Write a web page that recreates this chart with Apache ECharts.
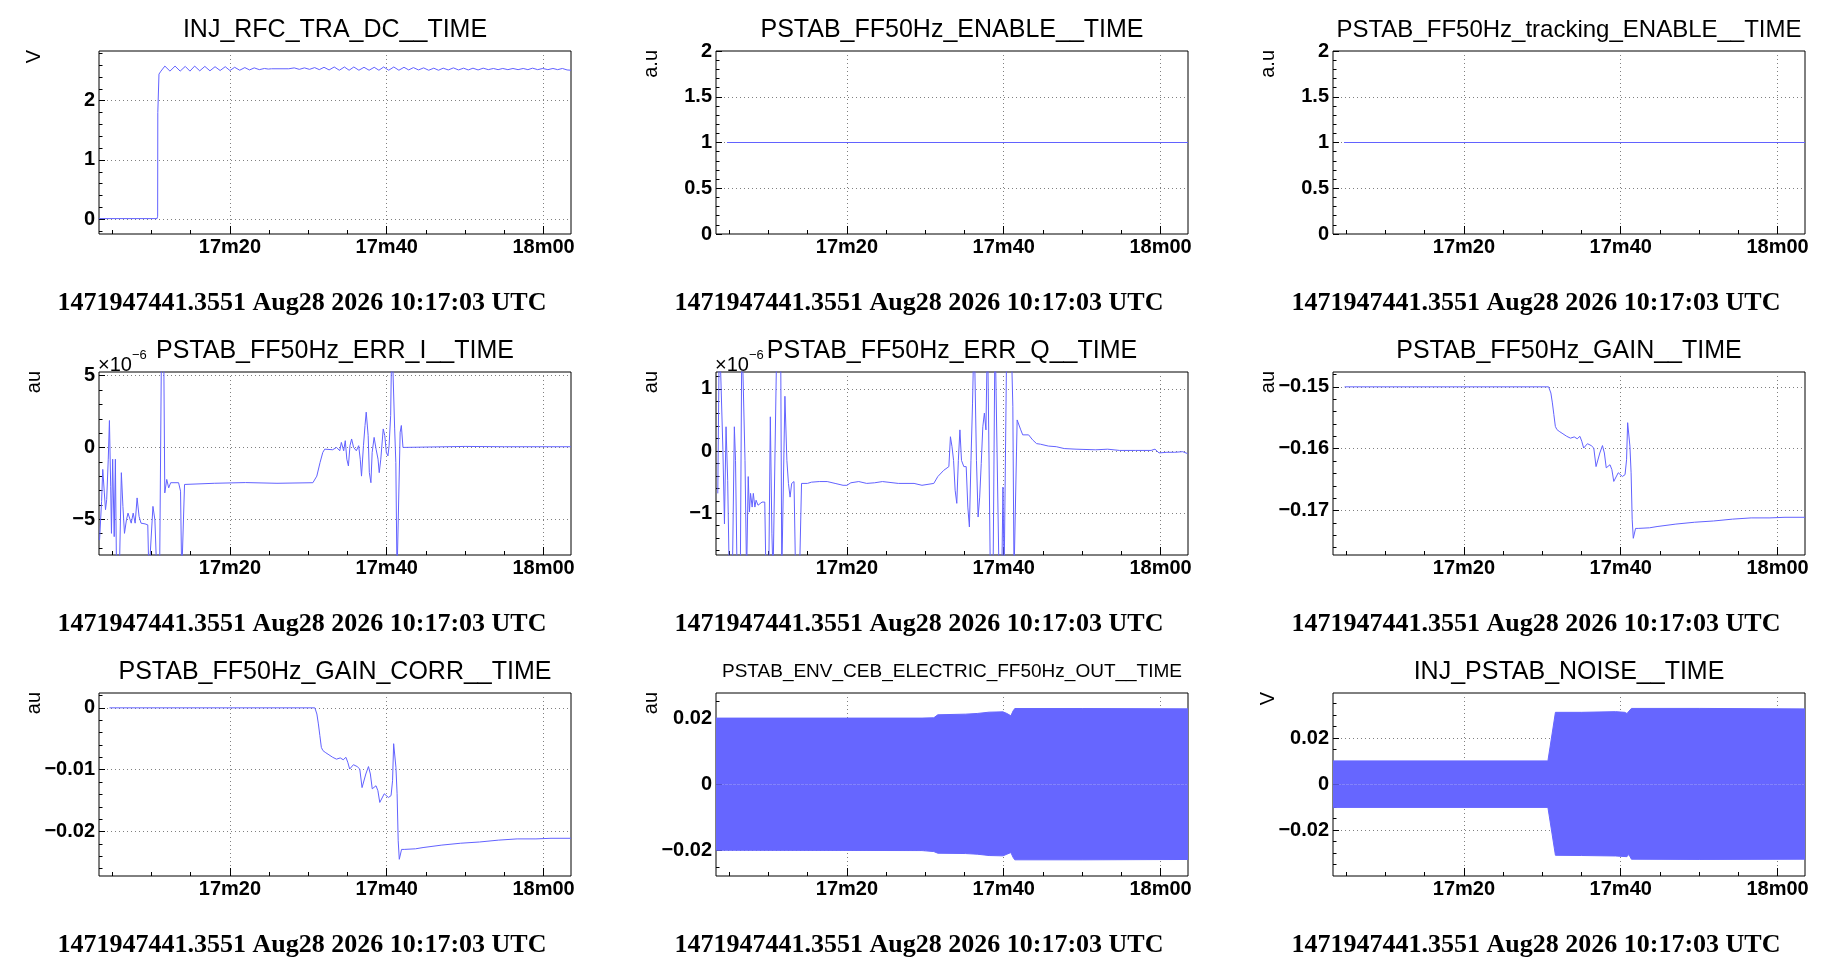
<!DOCTYPE html>
<html>
<head>
<meta charset="utf-8">
<title>PSTAB FF50Hz</title>
<script src="https://cdn.jsdelivr.net/npm/echarts@6/dist/echarts.min.js"></script>
<style>
  html, body { margin: 0; padding: 0; background: #fff; }
  #main { width: 1831px; height: 958px; }
</style>
</head>
<body>
<div id="main"></div>
<script>
// time axis: seconds after 10:17:00
var X_MIN = 3.3, X_MAX = 63.5;
var xMajorTicks = [20, 40, 60];
var xMajorLabels = ['17m20', '17m40', '18m00'];
var xMinorTicks = [5, 10, 15, 25, 30, 35, 45, 50, 55];
var dateText = '1471947441.3551 Aug28 2026 10:17:03 UTC';

var panelTitles = [
  'INJ_RFC_TRA_DC__TIME', 'PSTAB_FF50Hz_ENABLE__TIME', 'PSTAB_FF50Hz_tracking_ENABLE__TIME',
  'PSTAB_FF50Hz_ERR_I__TIME', 'PSTAB_FF50Hz_ERR_Q__TIME', 'PSTAB_FF50Hz_GAIN__TIME',
  'PSTAB_FF50Hz_GAIN_CORR__TIME', 'PSTAB_ENV_CEB_ELECTRIC_FF50Hz_OUT__TIME', 'INJ_PSTAB_NOISE__TIME'
];
var yUnits = ['V', 'a.u', 'a.u', 'au', 'au', 'au', 'au', 'au', 'V'];
var yRanges = [[-0.25, 2.84], [0, 2], [0, 2], [-7.5, 5.26], [-1.67, 1.27],
  [-0.1772, -0.1476], [-0.0272, 0.0024], [-0.0278, 0.0276], [-0.0399, 0.0396]];
var yMajorTicks = [[0, 1, 2], [0, 0.5, 1, 1.5, 2], [0, 0.5, 1, 1.5, 2], [-5, 0, 5], [-1, 0, 1],
  [-0.17, -0.16, -0.15], [-0.02, -0.01, 0], [-0.02, 0, 0.02], [-0.02, 0, 0.02]];
var yMajorLabels = [['0', '1', '2'], ['0', '0.5', '1', '1.5', '2'], ['0', '0.5', '1', '1.5', '2'],
  ['\u22125', '0', '5'], ['\u22121', '0', '1'], ['\u22120.17', '\u22120.16', '\u22120.15'],
  ['\u22120.02', '\u22120.01', '0'], ['\u22120.02', '0', '0.02'], ['\u22120.02', '0', '0.02']];
var yMinorStep = [0.2, 0.1, 0.1, 1, 0.2, 0.002, 0.002, 0.005, 0.005];
// ERR_I and ERR_Q values are in units of 1e-6
var yExponent = [null, null, null, '\u22126', '\u22126', null, null, null, null];

var rfcTraDc = [[3.3,0.01],[10.7,0.01],[10.78,0.05],[10.8,1.8],[10.9,1.8],[10.95,2.45],[11.2,2.5],
  [11.7,2.585],[12.35,2.5],[13.0,2.585],[13.65,2.5],[14.3,2.58],[14.9,2.5],[15.5,2.585],[16.15,2.505],
  [16.8,2.58],[17.45,2.505],[18.1,2.575],[18.75,2.51],[19.4,2.575],[20.0,2.51],[20.6,2.565],[21.25,2.515],
  [21.9,2.56],[22.5,2.52],[23.1,2.555],[23.75,2.525],[24.4,2.545],[24.9,2.535],[25.3,2.54],[27.5,2.54],
  [28.2,2.555],[28.85,2.53],[29.5,2.555],[30.15,2.53],[30.8,2.56],[31.4,2.525],[32.0,2.565],[32.65,2.52],
  [33.3,2.57],[33.95,2.515],[34.6,2.57],[35.2,2.515],[35.8,2.57],[36.45,2.515],[37.1,2.565],[37.75,2.515],
  [38.4,2.565],[39.0,2.515],[39.6,2.57],[40.25,2.515],[40.9,2.57],[41.55,2.515],[42.2,2.565],[42.8,2.52],
  [43.4,2.56],[44.05,2.52],[44.7,2.555],[45.35,2.515],[46.0,2.55],[46.6,2.515],[47.2,2.55],[47.85,2.52],
  [48.5,2.555],[49.15,2.52],[49.8,2.55],[50.4,2.52],[51.0,2.55],[51.65,2.52],[52.3,2.55],[52.95,2.525],
  [53.6,2.545],[54.2,2.525],[54.8,2.545],[55.45,2.525],[56.1,2.545],[56.75,2.525],[57.4,2.545],[58.0,2.525],
  [58.6,2.55],[59.25,2.525],[59.9,2.545],[60.55,2.525],[61.2,2.545],[61.8,2.525],[62.4,2.545],[63.0,2.52],
  [63.5,2.515]];

var ff50Enable = [[4.7,1],[63.5,1]];
var ff50TrackingEnable = [[4.7,1],[63.5,1]];

var errI = [[3.37,-6.46],[3.63,-3.76],[3.78,-1.53],[3.98,-3.17],[4.13,-4.34],[4.28,-3.64],[4.48,-0.82],
  [4.63,1.88],[4.79,-2.70],[4.89,-5.99],[5.04,-0.82],[5.24,-6.22],[5.39,-0.82],[5.54,-9],[5.89,-9],
  [6.15,-1.76],[6.35,-4.11],[6.55,-5.99],[6.80,-5.05],[7.00,-4.58],[7.41,-5.28],[7.66,-4.58],[7.91,-5.28],
  [8.16,-3.52],[8.41,-4.81],[8.66,-5.28],[9.17,-5.33],[9.52,-5.40],[9.67,-9],[9.92,-9],[10.18,-4.11],
  [10.43,-5.05],[10.68,-9],[11.03,-9],[11.28,8],[11.54,8],[11.69,-3.17],[11.94,-2.23],[12.19,-2.82],
  [12.44,-2.46],[13.45,-2.46],[13.70,-3.05],[13.85,-9],[14.06,-9],[14.21,-2.58],[14.46,-2.46],[18,-2.5],
  [22,-2.45],[26,-2.5],[30.58,-2.46],[31.08,-2.0],[31.49,-1.06],[31.84,-0.35],[32.09,-0.12],[33.10,-0.16],
  [33.60,0.0],[34.01,-0.23],[34.21,0.35],[34.51,-0.23],[34.71,0.47],[34.91,-0.82],[35.11,-1.29],[35.31,0.12],
  [35.52,0.59],[35.77,0.0],[36.12,-0.23],[36.42,0.12],[36.62,-0.82],[36.78,-2.0],[37.03,0.12],[37.23,1.53],
  [37.38,2.46],[37.63,0.82],[37.78,-1.76],[37.98,-2.46],[38.14,-0.35],[38.39,0.70],[38.64,-0.12],[38.89,-0.82],
  [39.04,-1.76],[39.24,-0.82],[39.55,1.29],[39.75,0.82],[39.95,-0.35],[40.15,-0.59],[40.30,0.12],[40.50,2.23],
  [40.65,8],[40.81,8],[41.01,1.29],[41.16,-1.06],[41.31,-9],[41.56,-9],[41.71,1.06],[41.86,1.53],[42.07,0.0],
  [42.27,0.07],[50,0.07],[55,0.05],[63.48,0.05]];

var errQ = [[3.53,-0.68],[3.73,2],[3.98,2],[4.18,0.02],[4.38,-1.17],[4.58,0.39],[4.79,-0.47],[4.99,-2],
  [5.39,-2],[5.64,0.39],[5.79,-0.15],[5.99,-2],[6.40,-2],[6.60,2],[6.80,2],[7.00,-0.15],[7.20,-2],[7.30,-2],
  [7.41,-0.41],[7.56,-0.98],[7.71,-0.68],[7.91,-0.90],[8.06,-0.68],[8.26,-0.90],[8.41,-0.79],[8.66,-0.87],
  [9.17,-0.82],[9.52,-0.82],[9.67,-2],[10.03,-2],[10.23,0.55],[10.43,-1.33],[10.58,-2],[10.83,-2],[11.08,2],
  [11.54,2],[11.69,-2],[11.94,-2],[12.09,0.88],[12.34,-0.15],[12.54,-0.52],[12.75,-0.74],[12.95,-0.52],
  [13.25,-0.49],[13.45,-2],[13.95,-2],[14.21,-0.52],[14.46,-0.49],[14.96,-0.52],[15.47,-0.50],[16.47,-0.49],
  [17.48,-0.49],[18.49,-0.52],[19.50,-0.55],[20.0,-0.55],[20.50,-0.51],[21.51,-0.49],[22.52,-0.52],
  [23.53,-0.51],[24.53,-0.49],[26.55,-0.52],[28.56,-0.52],[29.57,-0.55],[31.08,-0.52],[31.59,-0.41],
  [32.34,-0.31],[33.00,-0.25],[33.20,0.23],[33.40,0.07],[33.60,-0.15],[33.80,-0.63],[34.01,-0.84],
  [34.21,-0.15],[34.41,0.34],[34.61,-0.15],[34.91,-0.25],[35.21,-0.25],[35.42,-0.90],[35.62,-1.22],
  [35.82,-0.15],[36.02,0.77],[36.22,2],[36.37,2],[36.52,-0.15],[36.73,-1.06],[36.93,-0.74],[37.13,-0.20],
  [37.33,0.39],[37.53,0.61],[37.73,0.34],[37.93,2],[38.14,2],[38.29,-2],[38.64,-2],[38.89,2],[39.14,2],
  [39.40,-2],[39.75,-2],[39.90,-0.58],[40.05,-2],[40.40,2],[40.91,2],[41.16,0.72],[41.31,-2],[41.51,-2],
  [41.71,0.50],[41.91,0.53],[42.17,0.34],[42.42,0.26],[42.67,0.23],[43.17,0.26],[43.68,0.18],[44.18,0.12],
  [44.69,0.11],[45.69,0.08],[46.70,0.07],[47.71,0.04],[49.22,0.03],[51.74,0.02],[53.25,0.03],[54.76,0.01],
  [56.78,0.01],[58.79,0.01],[59.29,0.03],[59.80,-0.03],[60.81,-0.02],[61.81,-0.02],[62.82,-0.01],[63.43,-0.04]];

var gain = [[4.78,-0.15],[30.80,-0.15],[31.09,-0.151],[31.28,-0.1526],[31.47,-0.1545],[31.66,-0.1564],
  [31.85,-0.1569],[32.15,-0.1572],[32.63,-0.1576],[33.11,-0.158],[33.59,-0.1583],[34.07,-0.1581],
  [34.45,-0.1584],[34.79,-0.158],[35.03,-0.1588],[35.27,-0.1599],[35.51,-0.1596],[35.75,-0.1592],
  [36.23,-0.1595],[36.56,-0.1599],[36.85,-0.1629],[37.04,-0.1629],[37.33,-0.1607],[37.67,-0.1595],
  [37.91,-0.1607],[38.15,-0.1631],[38.39,-0.1634],[38.63,-0.1626],[38.87,-0.1634],[39.11,-0.1653],
  [39.35,-0.1656],[39.68,-0.1639],[39.92,-0.1637],[40.21,-0.1645],[40.55,-0.1642],[40.74,-0.1618],
  [40.88,-0.1558],[41.03,-0.1556],[41.17,-0.1596],[41.32,-0.1639],[41.46,-0.1715],[41.60,-0.1745],
  [41.75,-0.1745],[41.89,-0.1729],[42.23,-0.1729],[43.67,-0.1728],[44.63,-0.1726],[47.03,-0.1722],
  [49.43,-0.1719],[51.83,-0.1717],[54.23,-0.1714],[56.63,-0.1712],[59.03,-0.1712],[60.95,-0.1711],
  [63.50,-0.1711]];

var gainCorr = [[4.63,0],[30.83,0],[31.09,-0.001],[31.28,-0.0026],[31.47,-0.0045],[31.66,-0.0064],
  [31.85,-0.0069],[32.15,-0.0072],[32.63,-0.0076],[33.11,-0.008],[33.59,-0.0083],[34.07,-0.0081],
  [34.45,-0.0084],[34.79,-0.008],[35.03,-0.0088],[35.27,-0.0099],[35.51,-0.0096],[35.75,-0.0092],
  [36.23,-0.0095],[36.56,-0.0099],[36.85,-0.0129],[37.04,-0.0129],[37.33,-0.0107],[37.67,-0.0095],
  [37.91,-0.0107],[38.15,-0.0131],[38.39,-0.0134],[38.63,-0.0126],[38.87,-0.0134],[39.11,-0.0153],
  [39.35,-0.0156],[39.68,-0.0139],[39.92,-0.0137],[40.21,-0.0145],[40.55,-0.0142],[40.74,-0.0118],
  [40.88,-0.0058],[41.03,-0.0056],[41.17,-0.0096],[41.32,-0.0139],[41.46,-0.0215],[41.60,-0.0245],
  [41.75,-0.0245],[41.89,-0.0229],[42.23,-0.0229],[43.67,-0.0228],[44.63,-0.0226],[47.03,-0.0222],
  [49.43,-0.0219],[51.83,-0.0217],[54.23,-0.0214],[56.63,-0.0212],[59.03,-0.0212],[60.95,-0.0211],
  [63.50,-0.0211]];

// 50 Hz signals: only the envelope of the oscillation is visible
var envOutUpper = [[3.3,0.0200],[29.57,0.0200],[31.08,0.0201],[31.59,0.0210],[35.11,0.0212],[36.62,0.0214],
  [38.14,0.0218],[39.90,0.0219],[40.4,0.0214],[40.91,0.0207],[41.2,0.0222],[41.41,0.0229],[50,0.0229],
  [63.5,0.0228]];
var envOutLower = [[3.3,-0.0200],[29.57,-0.0201],[31.08,-0.0204],[31.59,-0.0209],[35.11,-0.0210],
  [36.62,-0.0212],[38.14,-0.0216],[39.90,-0.0217],[40.4,-0.0212],[40.91,-0.0207],[41.2,-0.0222],
  [41.41,-0.0229],[50,-0.0229],[63.5,-0.0228]];
var noiseUpper = [[3.3,0.0101],[30.71,0.0101],[31.67,0.0312],[35,0.0312],[39.35,0.0315],[40.5,0.0312],
  [40.79,0.0307],[41.03,0.0309],[41.36,0.0329],[50,0.0329],[63.5,0.0327]];
var noiseLower = [[3.3,-0.0101],[30.71,-0.0101],[31.67,-0.0309],[35,-0.031],[39.35,-0.0312],[40.79,-0.0315],
  [41.03,-0.0305],[41.36,-0.0326],[50,-0.0327],[63.5,-0.0326]];

var panelLines = [[rfcTraDc], [ff50Enable], [ff50TrackingEnable], [errI], [errQ], [gain], [gainCorr], [], []];
var panelBands = [[], [], [], [], [], [], [], [envOutUpper, envOutLower], [noiseUpper, noiseLower]];

document.addEventListener('DOMContentLoaded', function () {
  // layout (px)
  var colOffset = [0, 617, 1234];
  var rowOffset = [0, 321, 642];
  var FRAME_LEFT = 99, FRAME_TOP = 51, FRAME_W = 472, FRAME_H = 183;
  var titleSize = [25, 25, 24, 25, 25, 25, 25, 19, 25];

  var LINE_COLOR = '#6262ff';
  var SANS = '"Liberation Sans", Arial, sans-serif';
  var SERIF = '"Liberation Serif", "Times New Roman", serif';

  // minor tick positions between the labelled ones
  function minorTicks(range, step, majors) {
    var out = [];
    var k0 = Math.ceil(range[0] / step - 1e-9), k1 = Math.floor(range[1] / step + 1e-9);
    for (var k = k0; k <= k1; k++) {
      var v = Math.round(k * step * 1e6) / 1e6;
      var isMajor = majors.some(function (m) { return Math.abs(m - v) < step / 100; });
      if (!isMajor) out.push(v);
    }
    return out;
  }

  function labelFor(values, labels) {
    return function (v) {
      for (var i = 0; i < values.length; i++) {
        if (Math.abs(values[i] - v) < 1e-9) return labels[i];
      }
      return '';
    };
  }

  function textStyle(text, font, align, vAlign) {
    return {
      text: text, font: font, fill: '#000',
      align: align, verticalAlign: vAlign, textAlign: align, textVerticalAlign: vAlign
    };
  }

  var grids = [], xAxes = [], yAxes = [], series = [], graphics = [];

  for (var p = 0; p < 9; p++) {
    var col = p % 3, row = Math.floor(p / 3);
    var frameLeft = colOffset[col] + FRAME_LEFT, frameTop = rowOffset[row] + FRAME_TOP;

    grids.push({
      left: frameLeft, top: frameTop, width: FRAME_W, height: FRAME_H,
      show: true, borderColor: '#000', borderWidth: 1
    });

    // major x axis: labels, long ticks, grid lines
    xAxes.push({
      type: 'value', gridIndex: p, min: X_MIN, max: X_MAX, position: 'bottom',
      axisLine: { show: false, onZero: false },
      axisTick: { show: true, inside: true, length: 8, customValues: xMajorTicks, lineStyle: { color: '#000' } },
      axisLabel: {
        customValues: xMajorTicks, formatter: labelFor(xMajorTicks, xMajorLabels),
        color: '#000', fontSize: 20, fontWeight: 'bold', fontFamily: SANS, margin: 3
      },
      splitLine: { show: true, lineStyle: { color: '#808080', type: [1, 3], width: 1 } }
    });
    // minor x ticks
    xAxes.push({
      type: 'value', gridIndex: p, min: X_MIN, max: X_MAX, position: 'bottom',
      axisLine: { show: false, onZero: false },
      axisTick: { show: true, inside: true, length: 4, customValues: xMinorTicks, lineStyle: { color: '#000' } },
      axisLabel: { show: false },
      splitLine: { show: false }
    });

    yAxes.push({
      type: 'value', gridIndex: p, min: yRanges[p][0], max: yRanges[p][1], position: 'left',
      axisLine: { show: false, onZero: false },
      axisTick: { show: true, inside: true, length: 6, customValues: yMajorTicks[p], lineStyle: { color: '#000' } },
      axisLabel: {
        customValues: yMajorTicks[p], formatter: labelFor(yMajorTicks[p], yMajorLabels[p]),
        color: '#000', fontSize: 20, fontWeight: 'bold', fontFamily: SANS, margin: 4
      },
      splitLine: { show: true, lineStyle: { color: '#808080', type: [1, 3], width: 1 } }
    });
    yAxes.push({
      type: 'value', gridIndex: p, min: yRanges[p][0], max: yRanges[p][1], position: 'left',
      axisLine: { show: false, onZero: false },
      axisTick: {
        show: true, inside: true, length: 3.5,
        customValues: minorTicks(yRanges[p], yMinorStep[p], yMajorTicks[p]), lineStyle: { color: '#000' }
      },
      axisLabel: { show: false },
      splitLine: { show: false }
    });

    panelLines[p].forEach(function (d) {
      series.push({
        type: 'line', xAxisIndex: 2 * p, yAxisIndex: 2 * p, data: d,
        showSymbol: false, symbol: 'none',
        lineStyle: { color: LINE_COLOR, width: 1 }
      });
    });
    panelBands[p].forEach(function (d) {
      series.push({
        type: 'line', xAxisIndex: 2 * p, yAxisIndex: 2 * p, data: d,
        showSymbol: false, symbol: 'none',
        lineStyle: { color: '#6666ff', width: 1 },
        areaStyle: { color: '#6666ff', opacity: 1, origin: 0 }
      });
    });

    // title, unit name, date stamp
    graphics.push({
      type: 'text', x: frameLeft + FRAME_W / 2, y: rowOffset[row] + 30,
      style: textStyle(panelTitles[p], titleSize[p] + 'px ' + SANS, 'center', 'middle')
    });
    graphics.push({
      type: 'text', x: colOffset[col] + 34, y: rowOffset[row] + 50, rotation: Math.PI / 2,
      style: textStyle(yUnits[p], '20px ' + SANS, 'right', 'middle')
    });
    graphics.push({
      type: 'text', x: colOffset[col] + 302, y: rowOffset[row] + 303,
      style: textStyle(dateText, 'bold 26px ' + SERIF, 'center', 'middle')
    });
    if (yExponent[p]) {
      graphics.push({
        type: 'text', x: frameLeft - 1, y: frameTop - 7,
        style: textStyle('\u00d710', '20px ' + SANS, 'left', 'middle')
      });
      graphics.push({
        type: 'text', x: frameLeft + 33, y: frameTop - 17,
        style: textStyle(yExponent[p], '13px ' + SANS, 'left', 'middle')
      });
    }
  }

  var chart = echarts.init(document.getElementById('main'));
  chart.setOption({
    backgroundColor: '#fff',
    animation: false,
    grid: grids,
    xAxis: xAxes,
    yAxis: yAxes,
    series: series,
    graphic: graphics
  });
});
</script>
</body>
</html>
